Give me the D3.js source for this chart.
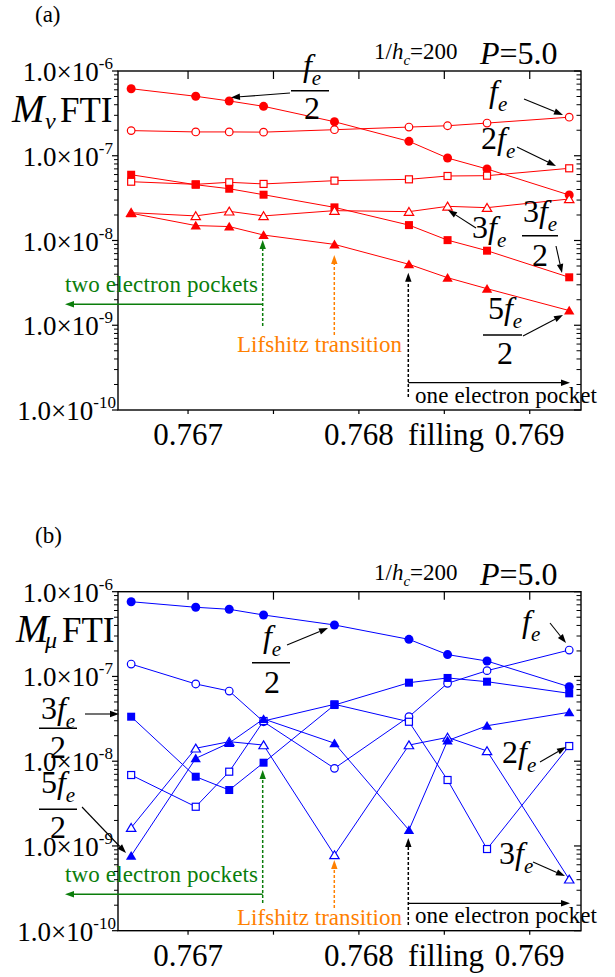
<!DOCTYPE html>
<html><head><meta charset="utf-8">
<script src="https://cdn.jsdelivr.net/npm/d3@7"></script>
<style>body{margin:0;background:#fff} svg{display:block}</style>
</head><body><svg id="c" width="615" height="977"></svg>
<script>
// ---------- data ----------
const filling = [0.766667, 0.767045, 0.767241, 0.767442, 0.767857, 0.768293, 0.768519, 0.768750, 0.769231];
const xTicksMajor = [0.767, 0.768, 0.769];
const xTickLabels = ["0.767", "0.768", "0.769"];
const xTicksMinor = [0.7675, 0.7685];
const yDecades = [1e-10, 1e-9, 1e-8, 1e-7, 1e-6];
const yTickExp = ["-10", "-9", "-8", "-7", "-6"];

// panel (a) : M_nu FTI
const aFeHalf  = [6.18e-7, 5.03e-7, 4.43e-7, 3.83e-7, 2.52e-7, 1.48e-7, 9.4e-8, 6.98e-8, 3.44e-8];
const aFe      = [1.98e-7, 1.91e-7, 1.91e-7, 1.90e-7, 2.03e-7, 2.18e-7, 2.26e-7, 2.43e-7, 2.85e-7];
const a3FeHalf = [5.97e-8, 4.55e-8, 4.08e-8, 3.47e-8, 2.46e-8, 1.52e-8, 1.01e-8, 7.58e-9, 3.68e-9];
const a2Fe     = [4.94e-8, 4.60e-8, 4.86e-8, 4.65e-8, 5.08e-8, 5.27e-8, 5.77e-8, 5.82e-8, 7.11e-8];
const a3Fe     = [2.13e-8, 1.95e-8, 2.21e-8, 1.95e-8, 2.25e-8, 2.19e-8, 2.53e-8, 2.44e-8, 3.09e-8];
const a5FeHalf = [2.10e-8, 1.50e-8, 1.46e-8, 1.16e-8, 9.0e-9, 5.24e-9, 3.64e-9, 2.70e-9, 1.49e-9];

// panel (b) : M_mu FTI
const bFeHalf  = [7.62e-7, 6.55e-7, 6.20e-7, 5.31e-7, 4.05e-7, 2.74e-7, 1.81e-7, 1.52e-7, 7.55e-8];
const bFe      = [1.40e-7, 8.15e-8, 6.73e-8, 2.92e-8, 8.24e-9, 3.35e-8, 8.30e-8, 1.17e-7, 2.05e-7];
const b3FeHalf = [3.35e-8, 6.56e-9, 4.57e-9, 9.6e-9, 4.60e-8, 8.44e-8, 9.6e-8, 8.67e-8, 6.32e-8];
const b2Fe     = [6.87e-9, 2.90e-9, 7.52e-9, 2.98e-8, 4.69e-8, 2.92e-8, 6.0e-9, 9.2e-10, 1.51e-8];
const b3Fe     = [1.64e-9, 1.42e-8, 1.70e-8, 1.55e-8, 7.82e-10, 1.55e-8, 1.91e-8, 1.32e-8, 4.04e-10];
const b5FeHalf = [7.67e-10, 1.08e-8, 1.64e-8, 3.15e-8, 1.63e-8, 1.54e-9, 1.75e-8, 2.62e-8, 3.78e-8];

// ---------- drawing ----------
const SERIF = "Liberation Serif, Tinos, Times New Roman, serif";
const svg = d3.select("#c");

function arrow(g, x1, y1, x2, y2, color, dash, hl = 9, hw = 3.2, sw = 1.1) {
  const ang = Math.atan2(y2 - y1, x2 - x1);
  const bx = x2 - hl * Math.cos(ang), by = y2 - hl * Math.sin(ang);
  g.append("line").attr("x1", x1).attr("y1", y1).attr("x2", bx).attr("y2", by)
    .attr("stroke", color).attr("stroke-width", sw).attr("stroke-dasharray", dash || null);
  const px = -Math.sin(ang) * hw, py = Math.cos(ang) * hw;
  g.append("path").attr("d", `M${x2},${y2}L${bx + px},${by + py}L${bx - px},${by - py}Z`).attr("fill", color);
}

function math(g, x, y, parts, size, anchor) {
  const t = g.append("text").attr("x", x).attr("y", y).attr("font-size", size)
    .attr("font-family", SERIF).attr("text-anchor", anchor || "start").attr("fill", "#000");
  parts.forEach(p => {
    const s = t.append("tspan").text(p.t);
    if (p.i) s.attr("font-style", "italic");
    if (p.fs) s.attr("font-size", p.fs);
    if (p.dy) s.attr("dy", p.dy);
    if (p.dx) s.attr("dx", p.dx);
  });
  return t;
}

function frac(g, cx, numBase, barY, denBase, num, barL, barR, size) {
  math(g, cx, numBase, num, size, "middle");
  g.append("line").attr("x1", barL).attr("x2", barR).attr("y1", barY).attr("y2", barY)
    .attr("stroke", "#000").attr("stroke-width", 1.5);
  math(g, cx, denBase, [{ t: "2" }], size, "middle");
}

function marker(g, type, x, y, color) {
  if (type === "cf") g.append("circle").attr("cx", x).attr("cy", y).attr("r", 4.5).attr("fill", color);
  if (type === "co") g.append("circle").attr("cx", x).attr("cy", y).attr("r", 3.8).attr("fill", "#fff").attr("stroke", color).attr("stroke-width", 1.2);
  if (type === "sf") g.append("rect").attr("x", x - 4).attr("y", y - 4).attr("width", 8).attr("height", 8).attr("fill", color);
  if (type === "so") g.append("rect").attr("x", x - 3.5).attr("y", y - 3.5).attr("width", 7).attr("height", 7).attr("fill", "#fff").attr("stroke", color).attr("stroke-width", 1.2);
  if (type === "tf") g.append("path").attr("d", `M${x},${y - 4.8}L${x + 5.2},${y + 4}L${x - 5.2},${y + 4}Z`).attr("fill", color);
  if (type === "to") g.append("path").attr("d", `M${x},${y - 4.2}L${x + 4.7},${y + 3.7}L${x - 4.7},${y + 3.7}Z`).attr("fill", "#fff").attr("stroke", color).attr("stroke-width", 1.2);
}

function panel(cfg) {
  const L = 118, R = 581, T = cfg.top, B = cfg.top + 339;
  const x = d3.scaleLinear().domain([0.76659, 0.76930]).range([L, R]);
  const y = d3.scaleLog().domain([1e-10, 1e-6]).range([B, T]);
  const g = svg.append("g");

  // panel letter
  g.append("text").attr("x", 35).attr("y", T - 49).attr("font-size", 23).attr("font-family", SERIF).text(cfg.letter);
  // header texts
  math(g, 374, T - 12, [{ t: "1/" }, { t: "h", i: 1 }, { t: "c", i: 1, fs: 15, dy: 6 }, { t: "=200", dy: -6 }], 23);
  math(g, 480, T - 7, [{ t: "P", i: 1 }, { t: "=5.0" }], 32);

  // series
  cfg.series.forEach(s => {
    const line = d3.line().x((d, i) => x(filling[i])).y(d => y(d));
    g.append("path").attr("d", line(s.v)).attr("fill", "none").attr("stroke", cfg.color).attr("stroke-width", 1);
  });
  cfg.series.forEach(s => {
    s.v.forEach((d, i) => marker(g, s.m, x(filling[i]), y(d), cfg.color));
  });

  // frame
  g.append("rect").attr("x", L).attr("y", T).attr("width", R - L).attr("height", B - T)
    .attr("fill", "none").attr("stroke", "#000").attr("stroke-width", 1.4);

  // x ticks
  xTicksMajor.concat(xTicksMinor).forEach(v => {
    const xx = x(v);
    g.append("line").attr("x1", xx).attr("x2", xx).attr("y1", T).attr("y2", T + 8).attr("stroke", "#000").attr("stroke-width", 1.2);
    g.append("line").attr("x1", xx).attr("x2", xx).attr("y1", B).attr("y2", B + 4).attr("stroke", "#000").attr("stroke-width", 1.2);
  });
  xTicksMajor.forEach((v, i) => {
    g.append("text").attr("x", x(v)).attr("y", B + 35).attr("text-anchor", "middle")
      .attr("font-size", 31).attr("font-family", SERIF).text(xTickLabels[i]);
  });
  g.append("text").attr("x", 446).attr("y", B + 35).attr("text-anchor", "middle")
    .attr("font-size", 31).attr("font-family", SERIF).text("filling");

  // y ticks
  yDecades.forEach((d, k) => {
    const yy = y(d);
    g.append("line").attr("x1", L - 6).attr("x2", L).attr("y1", yy).attr("y2", yy).attr("stroke", "#000").attr("stroke-width", 1.2);
    g.append("line").attr("x1", R - 7).attr("x2", R).attr("y1", yy).attr("y2", yy).attr("stroke", "#000").attr("stroke-width", 1.2);
    const t = g.append("text").attr("x", k === 0 ? 116 : 113).attr("y", yy + 10).attr("text-anchor", "end")
      .attr("font-size", 27).attr("font-family", SERIF);
    t.append("tspan").text("1.0\u00d710");
    t.append("tspan").attr("font-size", 17).attr("dy", -12).text(yTickExp[k]);
    if (k < yDecades.length - 1) {
      for (let m = 2; m <= 9; m++) {
        const ym = y(d * m);
        g.append("line").attr("x1", L - 4).attr("x2", L).attr("y1", ym).attr("y2", ym).attr("stroke", "#000").attr("stroke-width", 1);
        g.append("line").attr("x1", R - 4.5).attr("x2", R).attr("y1", ym).attr("y2", ym).attr("stroke", "#000").attr("stroke-width", 1);
      }
    }
  });

  // y title
  math(g, cfg.mx, cfg.mBase, [{ t: "M", i: 1 }], 39);
  math(g, cfg.subX, cfg.subBase, [{ t: cfg.sub, i: 1 }], 24);
  math(g, cfg.ftiX, cfg.mBase, [{ t: "FTI" }], 35);

  cfg.extra(g, x, y);
}

const FE = (pre) => (pre ? [{ t: pre }] : []).concat([{ t: "f", i: 1 }, { t: "e", i: 1, fs: 21, dy: 9 }]);
const MS = 32;

panel({
  letter: "(a)", top: 71, color: "#ff0000", sub: "\u03bd",
  mx: 12, mBase: 122, subX: 45, subBase: 129, ftiX: 60,
  series: [
    { v: aFeHalf, m: "cf" }, { v: aFe, m: "co" }, { v: a2Fe, m: "so" },
    { v: a3FeHalf, m: "sf" }, { v: a3Fe, m: "to" }, { v: a5FeHalf, m: "tf" }
  ],
  extra: (g, x, y) => {
    frac(g, 312, 76, 90.7, 119, FE(), 291, 329, MS);
    arrow(g, 290, 93, 231, 97.5, "#000");
    math(g, 489, 102, FE(), MS);
    arrow(g, 524, 99, 563, 115, "#000");
    math(g, 481, 149, FE("2"), MS);
    arrow(g, 517, 147, 556, 166, "#000");
    math(g, 472, 238, FE("3"), MS);
    arrow(g, 476, 228, 448, 210, "#000");
    frac(g, 540, 222, 235.7, 266, FE("3"), 522, 558, MS);
    arrow(g, 556, 246, 562, 273, "#000");
    frac(g, 505, 319, 335, 364, FE("5"), 483, 522, MS);
    arrow(g, 523, 336, 563, 315, "#000");

    g.append("text").attr("x", 65).attr("y", 291.7).attr("font-size", 23).attr("font-family", SERIF)
      .attr("fill", "#0b7d0b").attr("textLength", 193).text("two electron pockets");
    arrow(g, 262.7, 304.3, 65, 304.3, "#0b7d0b", null, 9, 3.2, 1.5);
    arrow(g, 262.7, 326, 262.7, 240, "#0b7d0b", "3,2", 9, 3.2, 1.5);
    g.append("text").attr("x", 237).attr("y", 351.7).attr("font-size", 23).attr("font-family", SERIF)
      .attr("fill", "#ff8000").attr("textLength", 165).text("Lifshitz transition");
    arrow(g, 334.3, 335, 334.3, 255, "#ff8000", "3,2", 9, 3.2, 1.5);
    arrow(g, 408.3, 397, 408.3, 272.7, "#000", "3,2", 9, 3.2, 1.5);
    arrow(g, 408.3, 382.7, 570, 382.7, "#000", null, 9, 3.2, 1.3);
    g.append("text").attr("x", 415).attr("y", 403.3).attr("font-size", 23).attr("font-family", SERIF)
      .attr("fill", "#000").attr("textLength", 182).text("one electron pocket");
  }
});

panel({
  letter: "(b)", top: 591.7, color: "#0000ff", sub: "\u03bc",
  mx: 16, mBase: 642, subX: 45, subBase: 648, ftiX: 62,
  series: [
    { v: bFeHalf, m: "cf" }, { v: bFe, m: "co" }, { v: b2Fe, m: "so" },
    { v: b3FeHalf, m: "sf" }, { v: b3Fe, m: "to" }, { v: b5FeHalf, m: "tf" }
  ],
  extra: (g, x, y) => {
    frac(g, 272, 647, 662.7, 693, FE(), 252, 290, MS);
    arrow(g, 287, 645, 328, 628, "#000");
    math(g, 522, 632, FE(), MS);
    arrow(g, 550, 623, 566, 643, "#000");
    math(g, 502, 763, FE("2"), MS);
    arrow(g, 540, 762, 566, 747, "#000");
    math(g, 499, 864, FE("3"), MS);
    arrow(g, 533, 862, 565, 876, "#000");
    frac(g, 58, 719, 728.3, 758, FE("3"), 39, 77, MS);
    arrow(g, 85, 714, 119, 714, "#000");
    frac(g, 58, 793, 809.3, 838, FE("5"), 39, 77, MS);
    arrow(g, 82, 807, 126, 853, "#000");

    g.append("text").attr("x", 65).attr("y", 881.7).attr("font-size", 23).attr("font-family", SERIF)
      .attr("fill", "#0b7d0b").attr("textLength", 193).text("two electron pockets");
    arrow(g, 262.7, 894.3, 65, 894.3, "#0b7d0b", null, 9, 3.2, 1.5);
    arrow(g, 262.7, 903, 262.7, 770, "#0b7d0b", "3,2", 9, 3.2, 1.5);
    g.append("text").attr("x", 237).attr("y", 925).attr("font-size", 23).attr("font-family", SERIF)
      .attr("fill", "#ff8000").attr("textLength", 165).text("Lifshitz transition");
    arrow(g, 334.3, 908, 334.3, 860, "#ff8000", "3,2", 9, 3.2, 1.5);
    arrow(g, 408.3, 925, 408.3, 838, "#000", "3,2", 9, 3.2, 1.5);
    arrow(g, 408.3, 903.3, 570, 903.3, "#000", null, 9, 3.2, 1.3);
    g.append("text").attr("x", 415).attr("y", 923.3).attr("font-size", 23).attr("font-family", SERIF)
      .attr("fill", "#000").attr("textLength", 182).text("one electron pocket");
  }
});
</script>
</body></html>
